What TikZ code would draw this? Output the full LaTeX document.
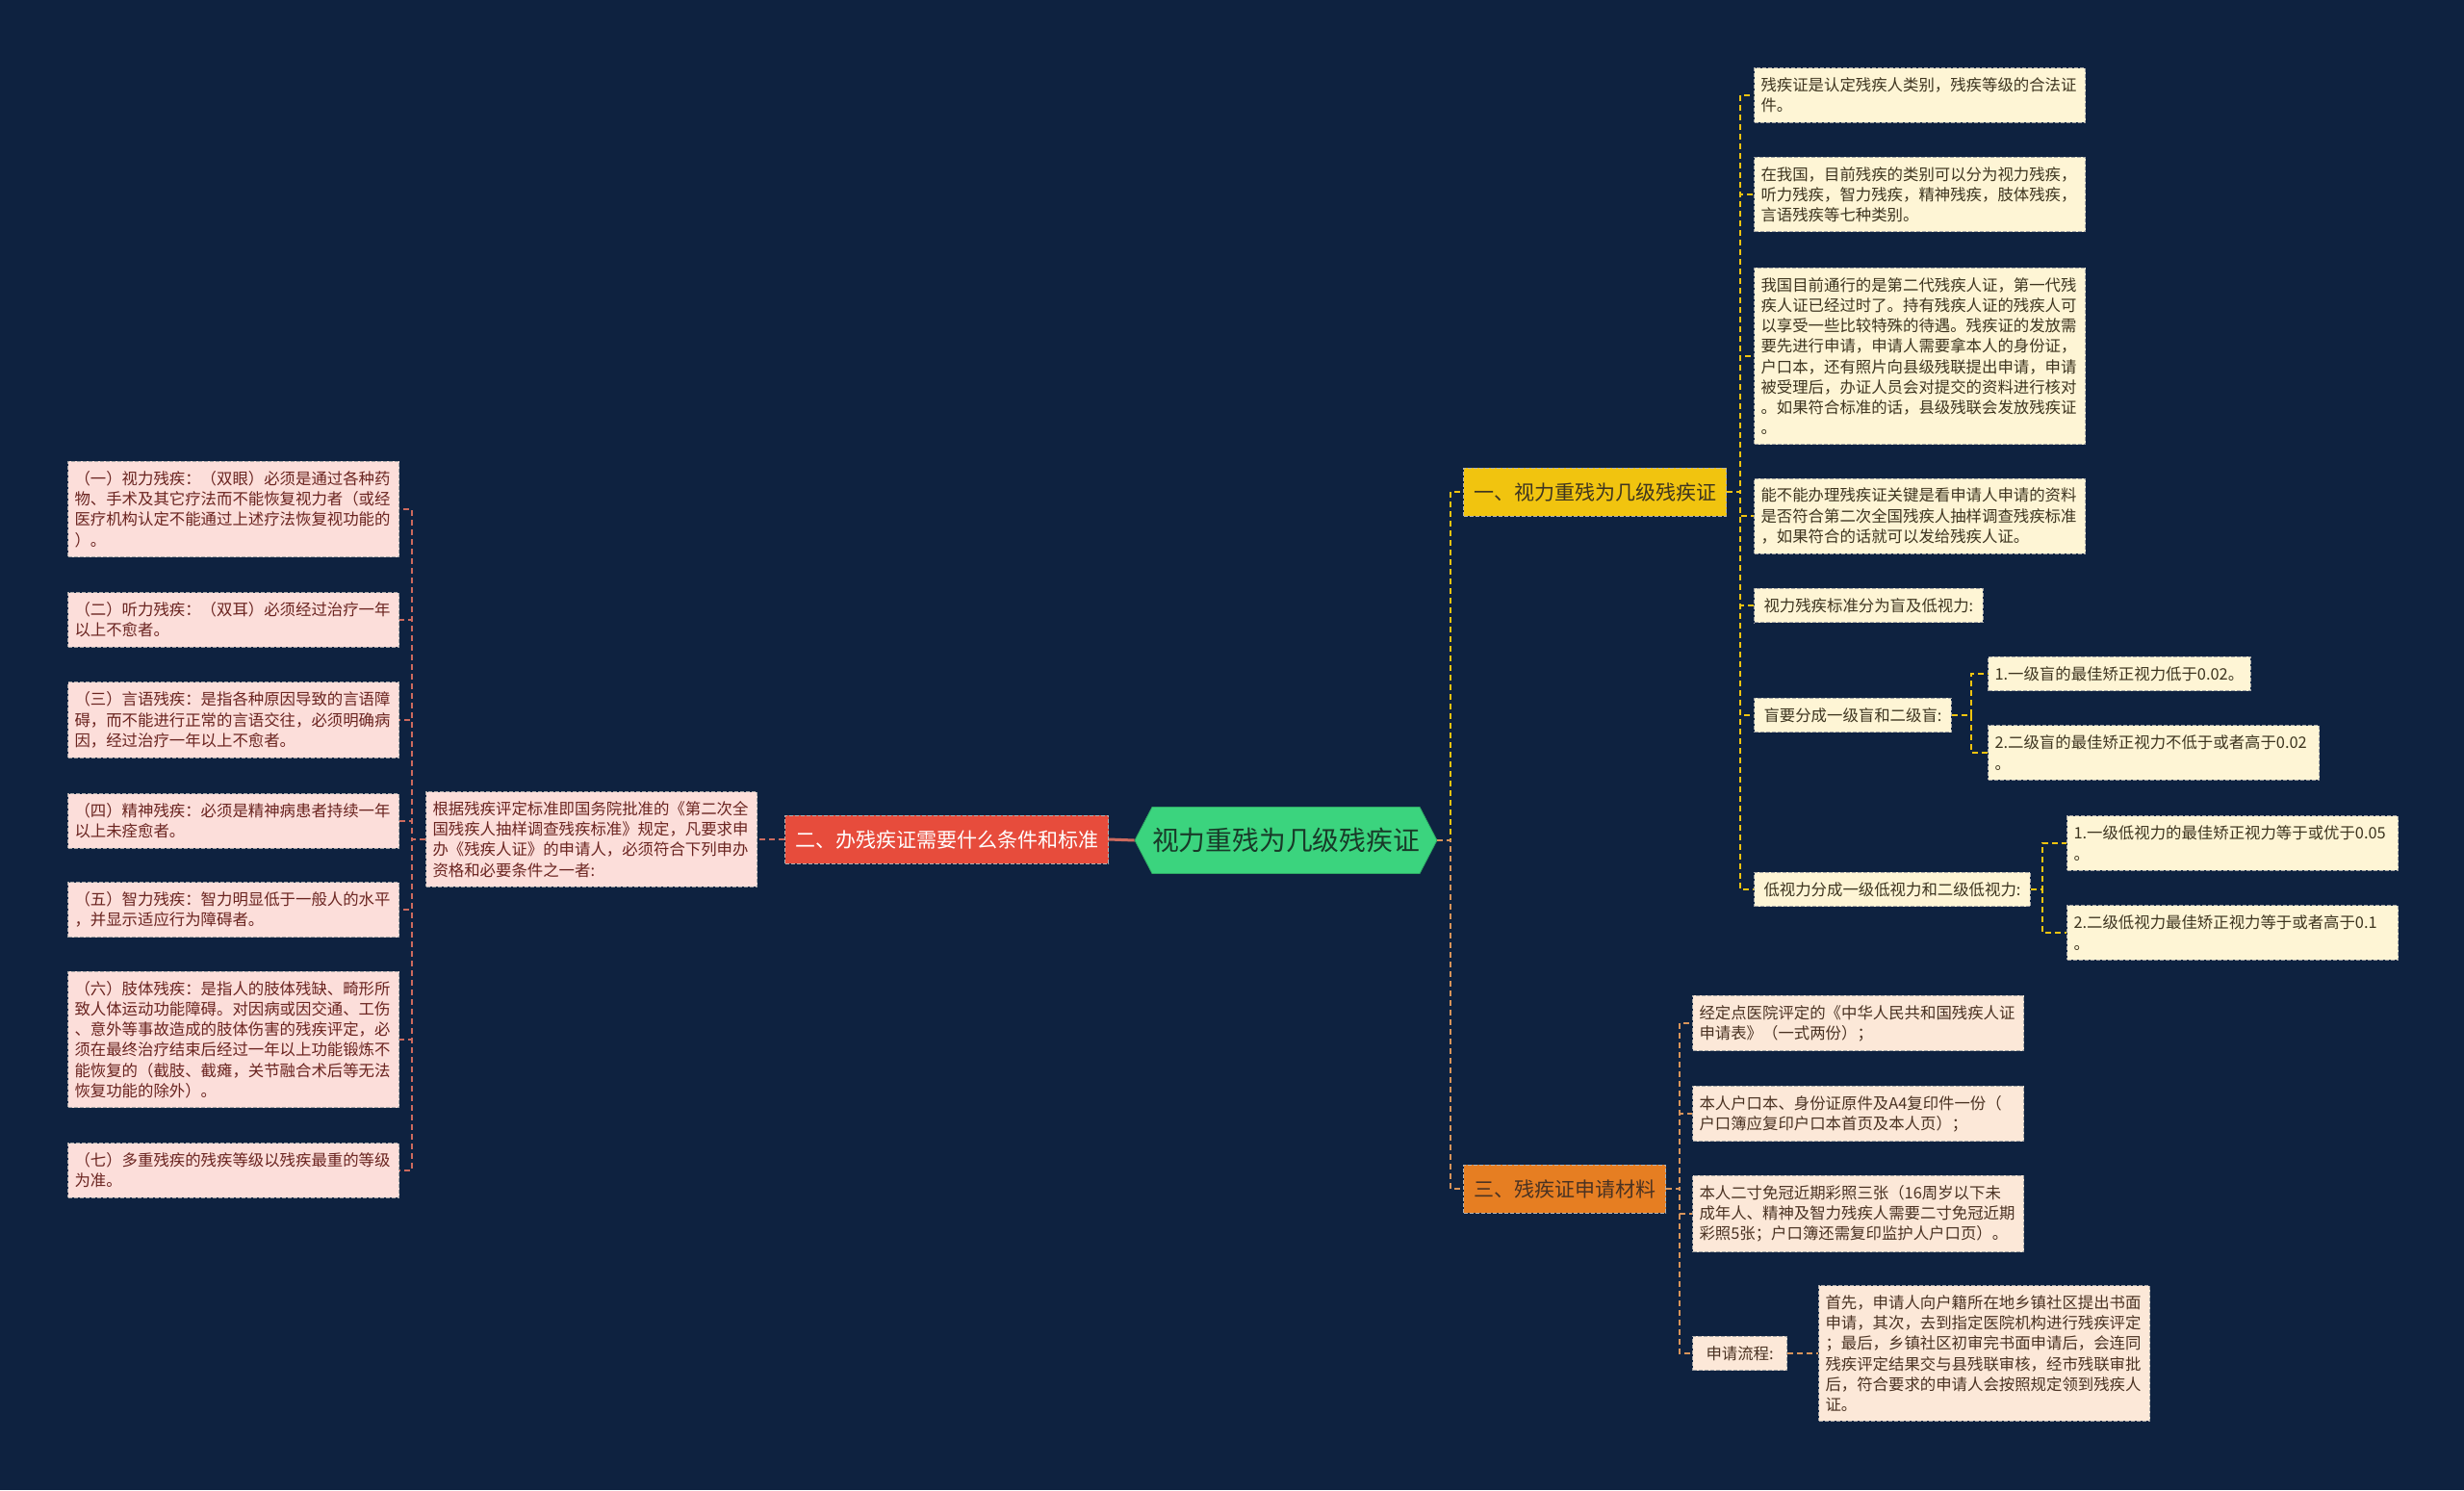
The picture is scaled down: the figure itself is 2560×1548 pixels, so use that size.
\documentclass[tikz,border=0pt]{standalone}
\usepackage{fontspec}
\setmainfont{Noto Sans CJK SC}
\usetikzlibrary{positioning,shapes.symbols}
\definecolor{bg}{HTML}{0E2240}
\definecolor{rootgreen}{HTML}{3BD47E}
\definecolor{roottext}{HTML}{183A28}
\definecolor{red}{HTML}{E74C3C}
\definecolor{redlite}{HTML}{FCDEDA}
\definecolor{redtext}{HTML}{6A2420}
\definecolor{redline}{HTML}{CC6A5E}
\definecolor{yellow}{HTML}{F1C40F}
\definecolor{yellowlite}{HTML}{FEF5D5}
\definecolor{yellowtext}{HTML}{3E3520}
\definecolor{orange}{HTML}{E67E22}
\definecolor{orangelite}{HTML}{FCE8D8}
\definecolor{orangetext}{HTML}{4A3222}
\definecolor{orangeline}{HTML}{D8945A}
\newcommand{\leaffont}{\fontsize{8.2}{10.6}\selectfont}
\newcommand{\branchfont}{\fontsize{10.5}{12}\selectfont}
\newcommand{\rootfont}{\fontsize{13.9}{16}\selectfont}

\begin{document}
\begin{tikzpicture}[x=0.5pt,y=-0.5pt,
    box/.style={draw=gray!70,dash pattern=on 2pt off 1pt,line width=0.5pt,align=left,anchor=west,font=\leaffont,inner xsep=3.5pt,inner ysep=5pt},
    wide/.style={text width=165pt},
    short/.style={inner xsep=5pt},
    leafred/.style={box,fill=redlite,text=redtext},
    leafyel/.style={box,fill=yellowlite,text=yellowtext},
    leaforg/.style={box,fill=orangelite,text=orangetext},
    branch/.style={draw=gray!60,dash pattern=on 2pt off 1pt,line width=0.5pt,anchor=west,font=\branchfont,inner xsep=5.25pt,minimum height=25pt},
    linkred/.style={draw=redline,dash pattern=on 3pt off 2pt,line width=1pt},
    linkyel/.style={draw=yellow,dash pattern=on 3pt off 2pt,line width=1pt},
    linkorg/.style={draw=orangeline,dash pattern=on 3pt off 2pt,line width=1pt}]
  \useasboundingbox (0,0) rectangle (2560,1548);
  \fill[bg] (0,0) rectangle (2560,1548);

  % root and main branches
  \node[signal,signal to=west and east,signal pointer angle=125,fill=rootgreen,draw=rootgreen!80!black,
    minimum width=155pt,minimum height=34.5pt,inner sep=0pt,font=\rootfont,text=roottext] (root) at (1336,873) {视力重残为几级残疾证};
  \node[branch,fill=red,text=white] (cond) at (815,872) {二、办残疾证需要什么条件和标准};
  \node[branch,fill=yellow,text=yellowtext] (level) at (1520,511) {一、视力重残为几级残疾证};
  \node[branch,fill=orange,text=orangetext] (mat) at (1520,1235) {三、残疾证申请材料};

  % left side
  \node[leafred,wide] (info) at (442,872) {根据残疾评定标准即国务院批准的《第二次全\\国残疾人抽样调查残疾标准》规定，凡要求申\\办《残疾人证》的申请人，必须符合下列申办\\资格和必要条件之一者:};
  \node[leafred,wide] (l1) at (70,529) {（一）视力残疾：（双眼）必须是通过各种药\\物、手术及其它疗法而不能恢复视力者（或经\\医疗机构认定不能通过上述疗法恢复视功能的\\）。};
  \node[leafred,wide] (l2) at (70,644) {（二）听力残疾：（双耳）必须经过治疗一年\\以上不愈者。};
  \node[leafred,wide] (l3) at (70,748) {（三）言语残疾：是指各种原因导致的言语障\\碍，而不能进行正常的言语交往，必须明确病\\因，经过治疗一年以上不愈者。};
  \node[leafred,wide] (l4) at (70,853) {（四）精神残疾：必须是精神病患者持续一年\\以上未痊愈者。};
  \node[leafred,wide] (l5) at (70,945) {（五）智力残疾：智力明显低于一般人的水平\\，并显示适应行为障碍者。};
  \node[leafred,wide] (l6) at (70,1080) {（六）肢体残疾：是指人的肢体残缺、畸形所\\致人体运动功能障碍。对因病或因交通、工伤\\、意外等事故造成的肢体伤害的残疾评定，必\\须在最终治疗结束后经过一年以上功能锻炼不\\能恢复的（截肢、截瘫，关节融合术后等无法\\恢复功能的除外）。};
  \node[leafred,wide] (l7) at (70,1216) {（七）多重残疾的残疾等级以残疾最重的等级\\为准。};

  % right side, first branch
  \node[leafyel,wide] (y1) at (1822,99) {残疾证是认定残疾人类别，残疾等级的合法证\\件。};
  \node[leafyel,wide] (y2) at (1822,202) {在我国，目前残疾的类别可以分为视力残疾，\\听力残疾，智力残疾，精神残疾，肢体残疾，\\言语残疾等七种类别。};
  \node[leafyel,wide] (y3) at (1822,370) {我国目前通行的是第二代残疾人证，第一代残\\疾人证已经过时了。持有残疾人证的残疾人可\\以享受一些比较特殊的待遇。残疾证的发放需\\要先进行申请，申请人需要拿本人的身份证，\\户口本，还有照片向县级残联提出申请，申请\\被受理后，办证人员会对提交的资料进行核对\\。如果符合标准的话，县级残联会发放残疾证\\。};
  \node[leafyel,wide] (y4) at (1822,536) {能不能办理残疾证关键是看申请人申请的资料\\是否符合第二次全国残疾人抽样调查残疾标准\\，如果符合的话就可以发给残疾人证。};
  \node[leafyel,short] (y5) at (1822,629) {视力残疾标准分为盲及低视力:};
  \node[leafyel,short] (y6) at (1822,743) {盲要分成一级盲和二级盲:};
  \node[leafyel,short] (y7) at (1822,924) {低视力分成一级低视力和二级低视力:};
  \node[leafyel] (y6a) at (2065,700) {1.一级盲的最佳矫正视力低于0.02。};
  \node[leafyel,wide] (y6b) at (2065,782) {2.二级盲的最佳矫正视力不低于或者高于0.02\\。};
  \node[leafyel,wide] (y7a) at (2147,876) {1.一级低视力的最佳矫正视力等于或优于0.05\\。};
  \node[leafyel,wide] (y7b) at (2147,969) {2.二级低视力最佳矫正视力等于或者高于0.1\\。};

  % right side, third branch
  \node[leaforg,wide] (o1) at (1758,1063) {经定点医院评定的《中华人民共和国残疾人证\\申请表》（一式两份）；};
  \node[leaforg,wide] (o2) at (1758,1157) {本人户口本、身份证原件及A4复印件一份（\\户口簿应复印户口本首页及本人页）；};
  \node[leaforg,wide] (o3) at (1758,1261) {本人二寸免冠近期彩照三张（16周岁以下未\\成年人、精神及智力残疾人需要二寸免冠近期\\彩照5张；户口簿还需复印监护人户口页）。};
  \node[leaforg,short,inner xsep=7pt] (o4) at (1758,1406) {申请流程:};
  \node[leaforg,wide] (o4a) at (1889,1406) {首先，申请人向户籍所在地乡镇社区提出书面\\申请，其次，去到指定医院机构进行残疾评定\\；最后，乡镇社区初审完书面申请后，会连同\\残疾评定结果交与县残联审核，经市残联审批\\后，符合要求的申请人会按照规定领到残疾人\\证。};

  % connectors
  \draw[redline,line width=1.5pt] (root.west) -- (cond.east);
  \draw[linkred] (cond.west) -- (info.east);
  \foreach \n in {l1,l2,l3,l4,l5,l6,l7}
    \draw[linkred] (info.west) -- ++(-14,0) |- (\n.east);
  \draw[linkyel] (root.east) -- ++(14,0) |- (level.west);
  \draw[linkorg] (root.east) -- ++(14,0) |- (mat.west);
  \foreach \n in {y1,y2,y3,y4,y5,y6,y7}
    \draw[linkyel] (level.east) -- ++(14,0) |- (\n.west);
  \foreach \n in {y6a,y6b}
    \draw[linkyel] (y6.east) -- ++(20,0) |- (\n.west);
  \foreach \n in {y7a,y7b}
    \draw[linkyel] (y7.east) -- ++(12,0) |- (\n.west);
  \foreach \n in {o1,o2,o3,o4}
    \draw[linkorg] (mat.east) -- ++(14,0) |- (\n.west);
  \draw[linkorg] (o4.east) -- (o4a.west);
\end{tikzpicture}
\end{document}
